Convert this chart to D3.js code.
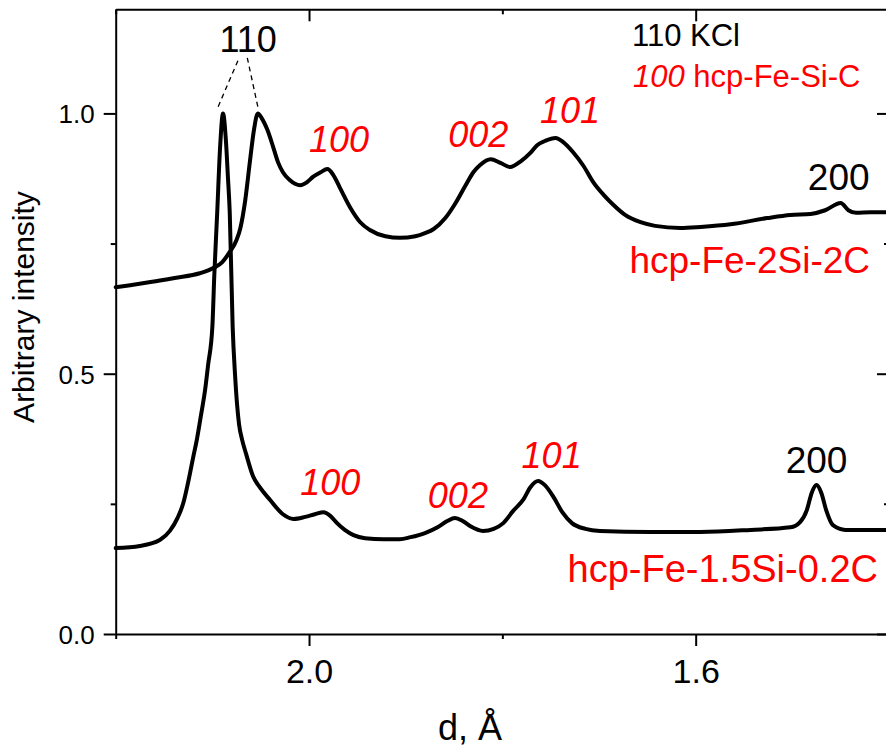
<!DOCTYPE html>
<html><head><meta charset="utf-8">
<script src="https://cdn.jsdelivr.net/npm/d3@7"></script>
<style>
html,body{margin:0;padding:0;background:#fff;}
svg{display:block;font-family:"Liberation Sans",Arial,sans-serif;}
</style></head>
<body><svg id="c" width="886" height="751"></svg>
<script>
// d-spacing (Å) and intensity for hcp-Fe-2Si-2C (upper curve)
const dTop = [2.200,2.185,2.164,2.139,2.113,2.099,2.090,2.082,2.075,2.071,2.066,2.061,2.057,2.053,2.049,2.043,2.037,2.032,2.027,2.020,2.009,2.002,1.996,1.988,1.981,1.975,1.968,1.957,1.947,1.937,1.921,1.906,1.890,1.880,1.871,1.859,1.849,1.838,1.830,1.823,1.812,1.802,1.792,1.781,1.771,1.764,1.756,1.745,1.737,1.727,1.716,1.706,1.695,1.685,1.673,1.657,1.642,1.616,1.595,1.564,1.526,1.502,1.481,1.466,1.450,1.442,1.434,1.419,1.399];
const iTop = [0.666,0.670,0.676,0.684,0.693,0.703,0.714,0.734,0.757,0.780,0.833,0.910,0.968,1.000,0.991,0.968,0.935,0.906,0.887,0.872,0.862,0.868,0.878,0.887,0.893,0.882,0.857,0.818,0.791,0.776,0.764,0.761,0.764,0.770,0.778,0.799,0.826,0.862,0.887,0.901,0.912,0.905,0.897,0.908,0.924,0.939,0.947,0.953,0.945,0.926,0.899,0.868,0.843,0.824,0.805,0.791,0.784,0.780,0.782,0.787,0.799,0.805,0.807,0.814,0.828,0.814,0.809,0.810,0.810];
// hcp-Fe-1.5Si-0.2C (lower curve)
const dBot = [2.200,2.175,2.154,2.144,2.136,2.130,2.125,2.120,2.1158,2.1117,2.1075,2.1044,2.100,2.098,2.095,2.092,2.089,2.086,2.084,2.082,2.079,2.0765,2.0744,2.0724,2.0692,2.0651,2.0579,2.051,2.040,2.027,2.016,2.004,1.994,1.985,1.978,1.971,1.963,1.954,1.942,1.923,1.906,1.895,1.880,1.867,1.857,1.849,1.841,1.833,1.820,1.809,1.799,1.789,1.778,1.771,1.763,1.756,1.747,1.738,1.728,1.714,1.699,1.647,1.595,1.543,1.502,1.492,1.485,1.480,1.475,1.470,1.465,1.458,1.445,1.399];
const iBot = [0.165,0.169,0.181,0.198,0.223,0.252,0.292,0.338,0.376,0.421,0.469,0.517,0.590,0.689,0.809,0.935,1.000,0.948,0.881,0.809,0.590,0.497,0.440,0.403,0.373,0.346,0.303,0.282,0.257,0.230,0.221,0.225,0.230,0.234,0.227,0.213,0.200,0.190,0.184,0.182,0.182,0.186,0.194,0.205,0.217,0.223,0.217,0.207,0.198,0.202,0.213,0.236,0.259,0.282,0.294,0.286,0.263,0.234,0.213,0.202,0.198,0.196,0.196,0.200,0.205,0.215,0.238,0.271,0.286,0.271,0.238,0.209,0.200,0.200];
const xMajorTicks = [2.0, 1.6];
const xMinorTicks = [2.2, 1.8, 1.4];
const yMajorTicks = [0.0, 0.5, 1.0];
const yMinorTicks = [0.25, 0.75];
const seriesNames = ["hcp-Fe-2Si-2C", "hcp-Fe-1.5Si-0.2C"];

const svg = d3.select("#c");
const L = 115.7, R = 889, T = 9.3, B = 634;
const x = d3.scaleLinear().domain([2.2, 1.4]).range([L, R]);
const y = d3.scaleLinear().domain([0, 1.2]).range([B, T]);

const line = d3.line().x(d => x(d[0])).y(d => y(d[1])).curve(d3.curveMonotoneX);
const topData = dTop.map((d, i) => [d, iTop[i]]);
const botData = dBot.map((d, i) => [d, iBot[i]]);

// curves
[topData, botData].forEach(dat => {
  svg.append("path").datum(dat).attr("d", line)
    .attr("fill", "none").attr("stroke", "#000").attr("stroke-width", 4)
    .attr("stroke-linejoin", "round").attr("stroke-linecap", "round");
});

// axes
function styleAxis(g) {
  g.select(".domain").attr("stroke", "#000").attr("stroke-width", 2);
  g.selectAll(".tick line").attr("stroke", "#000").attr("stroke-width", 2);
}
const fmt = d3.format(".1f");
const gb = svg.append("g").attr("transform", `translate(0,${B})`)
  .call(d3.axisBottom(x).tickValues(xMajorTicks).tickSize(12).tickSizeOuter(0).tickFormat(fmt));
styleAxis(gb);
gb.selectAll(".tick text").style("font-size", "34px").attr("fill", "#000").attr("dy", null).attr("y", 49);
svg.append("g").attr("transform", `translate(0,${B})`)
  .call(d3.axisBottom(x).tickValues(xMinorTicks).tickSize(5).tickSizeOuter(0).tickFormat(""))
  .call(g => { styleAxis(g); g.select(".domain").remove(); });

const gt = svg.append("g").attr("transform", `translate(0,${T})`)
  .call(d3.axisBottom(x).tickValues(xMajorTicks).tickSize(12).tickSizeOuter(0).tickFormat(""));
styleAxis(gt);
svg.append("g").attr("transform", `translate(0,${T})`)
  .call(d3.axisBottom(x).tickValues(xMinorTicks).tickSize(5).tickSizeOuter(0).tickFormat(""))
  .call(g => { styleAxis(g); g.select(".domain").remove(); });

const gl = svg.append("g").attr("transform", `translate(${L},0)`)
  .call(d3.axisLeft(y).tickValues(yMajorTicks).tickSize(12).tickSizeOuter(0).tickFormat(fmt));
styleAxis(gl);
gl.selectAll(".tick text").style("font-size", "26px").attr("fill", "#000").attr("x", -21).attr("dy", "0.36em");
svg.append("g").attr("transform", `translate(${L},0)`)
  .call(d3.axisLeft(y).tickValues(yMinorTicks).tickSize(5).tickSizeOuter(0).tickFormat(""))
  .call(g => { styleAxis(g); g.select(".domain").remove(); });

const gr = svg.append("g").attr("transform", `translate(${R},0)`)
  .call(d3.axisLeft(y).tickValues(yMajorTicks).tickSize(12).tickSizeOuter(0).tickFormat(""));
styleAxis(gr);
gr.selectAll(".tick line").attr("x2", -12);
svg.append("g").attr("transform", `translate(${R},0)`)
  .call(d3.axisLeft(y).tickValues(yMinorTicks).tickSize(5).tickSizeOuter(0).tickFormat(""))
  .call(g => { styleAxis(g); g.select(".domain").remove(); g.selectAll(".tick line").attr("x2", -5); });

// axis titles
svg.append("text").attr("x", 470).attr("y", 740).attr("text-anchor", "middle")
  .style("font-size", "36px").text("d, Å");
svg.append("text").attr("transform", "translate(34,307) rotate(-90)").attr("text-anchor", "middle")
  .style("font-size", "30px").text("Arbitrary intensity");

// peak annotations (data coordinates)
const red = "#ff0000";
const ann = [
  {t: "110", d: 2.063, i: 1.118, c: "#000", it: false, s: 36},
  {t: "100", d: 1.969, i: 0.926, c: red, it: true, s: 36},
  {t: "002", d: 1.825, i: 0.935, c: red, it: true, s: 36},
  {t: "101", d: 1.730, i: 0.981, c: red, it: true, s: 36},
  {t: "200", d: 1.452, i: 0.853, c: "#000", it: false, s: 37},
  {t: "100", d: 1.978, i: 0.267, c: red, it: true, s: 36},
  {t: "002", d: 1.846, i: 0.242, c: red, it: true, s: 36},
  {t: "101", d: 1.749, i: 0.319, c: red, it: true, s: 36},
  {t: "200", d: 1.475, i: 0.309, c: "#000", it: false, s: 37}
];
ann.forEach(a => {
  svg.append("text").attr("x", x(a.d)).attr("y", y(a.i)).attr("text-anchor", "middle")
    .attr("fill", a.c).style("font-size", a.s + "px").style("font-style", a.it ? "italic" : "normal")
    .text(a.t);
});
// dashed guide lines from "110" to the two 110 peaks
const guides = [[[2.094, 1.013], [2.072, 1.108]], [[2.053, 1.013], [2.064, 1.108]]];
guides.forEach(g => {
  svg.append("line").attr("x1", x(g[0][0])).attr("y1", y(g[0][1]))
    .attr("x2", x(g[1][0])).attr("y2", y(g[1][1]))
    .attr("stroke", "#000").attr("stroke-width", 1.3).attr("stroke-dasharray", "5,4");
});

// series labels
svg.append("text").attr("x", 870).attr("y", 273).attr("text-anchor", "end")
  .attr("fill", red).style("font-size", "37px").text(seriesNames[0]);
svg.append("text").attr("x", 878).attr("y", 582).attr("text-anchor", "end")
  .attr("fill", red).style("font-size", "38px").text(seriesNames[1]);

// note
svg.append("text").attr("x", 632).attr("y", 46).style("font-size", "31px").text("110 KCl");
const lg = svg.append("text").attr("x", 633).attr("y", 87).attr("fill", red).style("font-size", "31px");
lg.append("tspan").style("font-style", "italic").text("100");
lg.append("tspan").text(" hcp-Fe-Si-C");
</script></body></html>
